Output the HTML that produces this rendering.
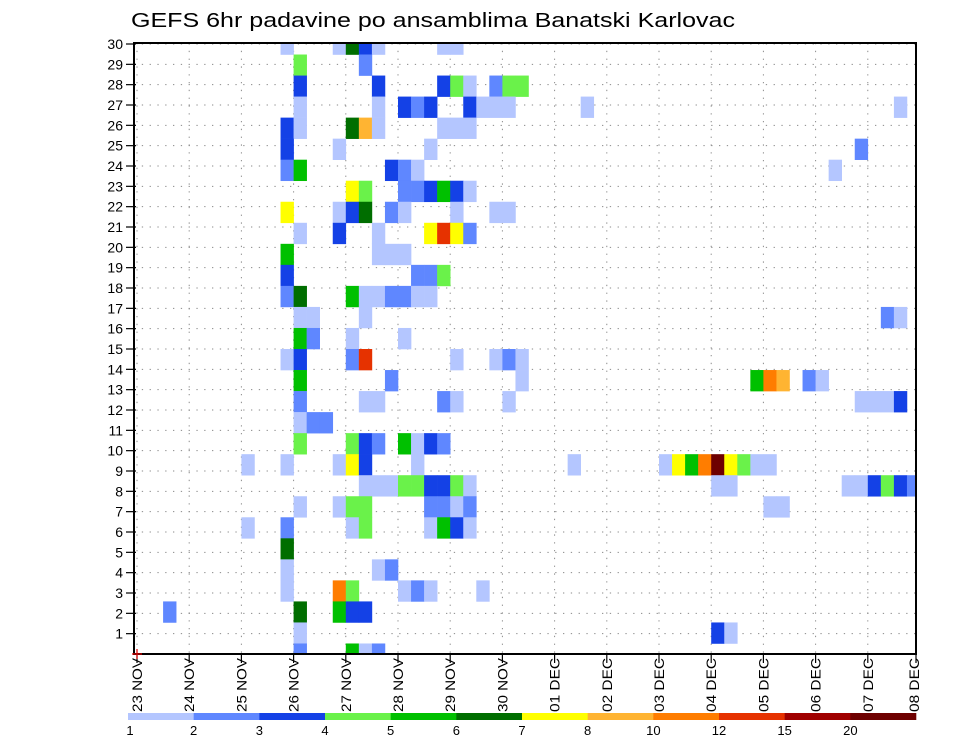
<!DOCTYPE html>
<html><head><meta charset="utf-8"><style>
html,body{margin:0;padding:0;background:#fff;}
svg{display:block;font-family:"Liberation Sans",sans-serif;}
</style></head><body>
<svg id="chart" width="960" height="742" viewBox="0 0 960 742" xmlns="http://www.w3.org/2000/svg">
<text x="131" y="27" font-size="20" textLength="604" lengthAdjust="spacingAndGlyphs" fill="#000">GEFS 6hr padavine po ansamblima Banatski Karlovac</text>
<defs><clipPath id="plotclip"><rect x="134" y="43" width="782" height="611"/></clipPath></defs>
<g id="grid"></g>
<g id="cells" clip-path="url(#plotclip)"></g>
<rect x="134" y="43" width="782" height="611" fill="none" stroke="#000" stroke-width="2"/>
<g id="axes"></g>
<g id="legend"></g>
</svg>
<script>
// x categories: date labels (one per day, 4 six-hour steps per day)
const dayLabels = ["23 NOV","24 NOV","25 NOV","26 NOV","27 NOV","28 NOV","29 NOV","30 NOV","01 DEC","02 DEC","03 DEC","04 DEC","05 DEC","06 DEC","07 DEC","08 DEC"];
const yTickLabels = [1,2,3,4,5,6,7,8,9,10,11,12,13,14,15,16,17,18,19,20,21,22,23,24,25,26,27,28,29,30];
const levels = [1,2,3,4,5,6,7,8,10,12,15,20];
const levelColors = ["#b4c6ff","#5f87ff","#1441e6","#6af24a","#00c000","#006e00","#ffff00","#ffb432","#ff7d00","#e63200","#a00000","#6e0000"];
// cell data: ensemble member, 6h step index, precipitation value (mm)
const cellMember = [
30,30,30,30,30,30,30,
29,29,
28,28,28,28,28,28,28,28,
27,27,27,27,27,27,27,27,27,27,27,
26,26,26,26,26,26,26,26,
25,25,25,25,
24,24,24,24,24,24,
23,23,23,23,23,23,23,23,
22,22,22,22,22,22,22,22,22,
21,21,21,21,21,21,21,
20,20,20,20,
19,19,19,19,
18,18,18,18,18,18,18,18,18,
17,17,17,17,17,
16,16,16,16,
15,15,15,15,15,15,15,15,
14,14,14,14,14,14,14,14,
13,13,13,13,13,13,13,13,13,13,
12,12,12,
11,11,11,11,11,11,11,11,
10,10,10,10,10,10,10,10,10,10,10,10,10,10,10,10,
9,9,9,9,9,9,9,9,9,9,9,9,9,9,9,9,9,
8,8,8,8,8,8,8,8,8,8,
7,7,7,7,7,7,7,7,
6,
5,5,5,
4,4,4,4,4,4,4,
3,3,3,3,3,
2,2,2,
1,1,1,1];
const cellStep = [
11,15,16,17,18,23,24,
12,17,
12,18,23,24,25,27,28,29,
12,18,20,21,22,25,26,27,28,34,58,
11,12,16,17,18,23,24,25,
11,15,22,55,
11,12,19,20,21,53,
16,17,20,21,22,23,24,25,
11,15,16,17,19,20,24,27,28,
12,15,18,22,23,24,25,
11,18,19,20,
11,21,22,23,
11,12,16,17,18,19,20,21,22,
12,13,17,57,58,
12,13,16,20,
11,12,16,17,24,27,28,29,
12,19,29,47,48,49,51,52,
12,17,18,23,24,28,55,56,57,58,
12,13,14,
12,16,17,18,20,21,22,23,
8,11,15,16,17,21,33,40,41,42,43,44,45,46,47,48,
17,18,19,20,21,22,23,24,25,44,45,54,55,56,57,58,59,
12,15,16,17,22,23,24,25,48,49,
8,11,16,17,22,23,24,25,
11,
11,18,19,
11,15,16,20,21,22,26,
2,12,15,16,17,
12,44,45,
12,16,17,18];
const cellValue = [
1.5,1.5,6.5,3.5,1.5,1.5,1.5,
4.5,2.5,
3.5,3.5,3.5,4.5,1.5,2.5,4.5,4.5,
1.5,1.5,3.5,2.5,3.5,3.5,1.5,1.5,1.5,1.5,1.5,
3.5,1.5,6.5,9,1.5,1.5,1.5,1.5,
3.5,1.5,1.5,2.5,
2.5,5.5,3.5,2.5,1.5,1.5,
7.5,4.5,2.5,2.5,3.5,5.5,3.5,1.5,
7.5,1.5,3.5,6.5,2.5,1.5,1.5,1.5,1.5,
1.5,3.5,1.5,7.5,13.5,7.5,2.5,
5.5,1.5,1.5,1.5,
3.5,2.5,2.5,4.5,
2.5,6.5,5.5,1.5,1.5,2.5,2.5,1.5,1.5,
1.5,1.5,1.5,2.5,1.5,
5.5,2.5,1.5,1.5,
1.5,3.5,2.5,13.5,1.5,1.5,2.5,1.5,
5.5,2.5,1.5,5.5,11,9,2.5,1.5,
2.5,1.5,1.5,2.5,1.5,1.5,1.5,1.5,1.5,3.5,
1.5,2.5,2.5,
4.5,4.5,3.5,2.5,5.5,1.5,3.5,2.5,
1.5,1.5,1.5,7.5,3.5,1.5,1.5,1.5,7.5,5.5,11,22,7.5,4.5,1.5,1.5,
1.5,1.5,1.5,4.5,4.5,3.5,3.5,4.5,1.5,1.5,1.5,1.5,1.5,3.5,4.5,3.5,2.5,
1.5,1.5,4.5,4.5,2.5,2.5,1.5,2.5,1.5,1.5,
1.5,2.5,1.5,4.5,1.5,5.5,3.5,1.5,
6.5,
1.5,1.5,2.5,
1.5,11,4.5,1.5,2.5,1.5,1.5,
2.5,6.5,5.5,3.5,3.5,
1.5,3.5,1.5,
2.5,5.5,1.5,2.5];

const NS = "http://www.w3.org/2000/svg";
const PL = 134, PR = 916, PT = 43, PB = 654;
const X0 = 137, DAYW = 52.2, STEPS_PER_DAY = 4;
const stepW = DAYW / STEPS_PER_DAY;
function xDay(d){ return X0 + d * DAYW; }
function xStep(k){ return X0 + k * stepW; }
// members 1..30 spread over the full plot height
function yMember(m){ return PB - (m - 1) * (PB - 44) / 29; }
const memberH = (PB - 44) / 29;
// tick labels 0..30
function yTick(v){ return PB - v * (PB - 44) / 30; }
function colorFor(v){
  let idx = 0;
  for (let i = 0; i < levels.length; i++) if (v >= levels[i]) idx = i;
  return levelColors[idx];
}
function mk(tag, attrs, parent){
  const e = document.createElementNS(NS, tag);
  for (const a in attrs) e.setAttribute(a, attrs[a]);
  parent.appendChild(e);
  return e;
}
const grid = document.getElementById("grid");
const cells = document.getElementById("cells");
const axes = document.getElementById("axes");
const legend = document.getElementById("legend");

// grid lines
yTickLabels.forEach(v => {
  const y = yTick(v);
  const l = mk("line", {x1: PL, x2: PR, y1: y, y2: y, stroke: "#8a8a8a", "stroke-width": 1, "stroke-dasharray": "1.3 6.5"}, grid);
  
  
});
for (let d = 0; d < dayLabels.length - 1; d++) {
  const x = xDay(d);
  const l = mk("line", {x1: x, x2: x, y1: PT, y2: PB, stroke: "#8a8a8a", "stroke-width": 1, "stroke-dasharray": "1.3 6.5"}, grid);
  
  
}

// cells
for (let i = 0; i < cellValue.length; i++) {
  const x = xStep(cellStep[i]);
  const yc = yMember(cellMember[i]);
  const r = mk("rect", {x: x, y: yc - memberH / 2, width: stepW + 0.3, height: memberH + 0.3, fill: colorFor(cellValue[i])}, cells);
  
  
}

// y axis ticks and labels
yTickLabels.forEach(v => {
  const y = yTick(v);
  const t = mk("line", {x1: 126, x2: 136, y1: y, y2: y, stroke: "#000", "stroke-width": 1.2}, axes);
  
  
  const tx = mk("text", {x: 123, y: y + 5, "font-size": 14, "text-anchor": "end", fill: "#000"}, axes);
  tx.textContent = String(v);
  
  
});

// x axis ticks and labels
dayLabels.forEach((lab, d) => {
  const x = Math.min(xDay(d), PR);
  const t = mk("line", {x1: x, x2: x, y1: PB, y2: PB + 9, stroke: "#000", "stroke-width": 1.2}, axes);
  
  
  const lx = (d === dayLabels.length - 1 ? PR - 2 : x) + 5;
  const tx = mk("text", {x: 0, y: 0, "font-size": 14, fill: "#000", textLength: 54, lengthAdjust: "spacingAndGlyphs", transform: "translate(" + lx + ",712) rotate(-90)"}, axes);
  tx.textContent = lab;
  
  
});
const rc = mk("path", {d: "M132 654 H142 M137 649 V659", stroke: "#d00", "stroke-width": 1.2}, axes);



// color legend
const LX = 128, LW = 788, LY = 713, LH = 7;
const segW = LW / levelColors.length;
levelColors.forEach((c, i) => {
  const r = mk("rect", {x: LX + i * segW, y: LY, width: segW + 0.3, height: LH, fill: c}, legend);
  
  
});
levels.forEach((lv, i) => {
  const t = mk("text", {x: LX + i * segW + (i === 0 ? 2 : 0), y: 735, "font-size": 13, "text-anchor": "middle", fill: "#000"}, legend);
  t.textContent = String(lv);
  
  
});
</script>
</body></html>
